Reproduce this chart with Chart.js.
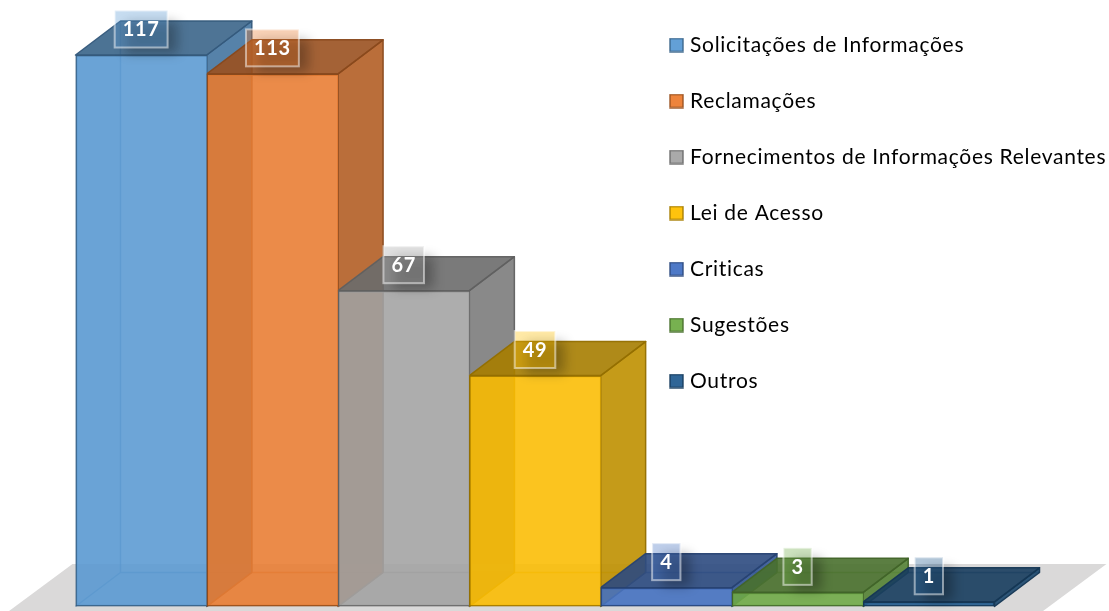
<!DOCTYPE html>
<html><head><meta charset="utf-8">
<style>html,body{margin:0;padding:0;background:#fff}canvas{display:block}</style>
<script src="https://cdn.jsdelivr.net/npm/chart.js@4"></script>
</head><body><canvas id="c" width="1109" height="611"></canvas>
<script>
const categories = ["Solicitações de Informações","Reclamações","Fornecimentos de Informações Relevantes","Lei de Acesso","Criticas","Sugestões","Outros"];
const values = [117,113,67,49,4,3,1];
const seriesColors = ["#5B9BD5","#ED7D31","#A5A5A5","#FFC000","#4472C4","#70AD47","#255E91"];

const DX = 45, DY = 34, ALPHA = 0.88;
const LABEL_FONT = 'bold 20px Lato';
const rgb = h => [1,3,5].map(i => parseInt(h.substr(i,2),16));
const shade = (h,f,a=1) => { const c = rgb(h).map(v => Math.round(v*f)); return `rgba(${c[0]},${c[1]},${c[2]},${a})`; };

function poly(ctx, pts, fill, stroke){
  ctx.beginPath();
  pts.forEach((p,i) => i ? ctx.lineTo(p[0],p[1]) : ctx.moveTo(p[0],p[1]));
  ctx.closePath();
  if(fill){ ctx.fillStyle = fill; ctx.fill(); }
  if(stroke){ ctx.strokeStyle = stroke; ctx.lineWidth = 1.5; ctx.lineJoin='round'; ctx.stroke(); }
}

const cube = {
  id:'cube',
  beforeDatasetsDraw(chart){
    const ctx = chart.ctx, area = chart.chartArea, bars = chart.getDatasetMeta(0).data;
    ctx.save();
    // ground plane
    const gb = 611, gt = area.bottom - DY - 8.5;
    const sl = DX/DY*1.02;
    poly(ctx, [[area.left-3,gt],[area.right+112,gt],[area.right+112-(gb-gt)*sl,gb],[area.left-3-(gb-gt)*sl,gb]], '#dad9d9');
    ctx.restore();
    ctx.save();
    bars.forEach((b,i) => {
      const c = seriesColors[i], l = b.x - b.width/2, r = b.x + b.width/2, t = b.y, f = b.base;
      const edge = shade(c,.58,.95), inner = shade(c,.8,.6);
      // floor, left wall and back wall, seen through the translucent front
      poly(ctx, [[l,f],[r,f],[r+DX,f-DY],[l+DX,f-DY]], shade(c,1,.08), null);
      poly(ctx, [[l,f],[l+DX,f-DY],[l+DX,t-DY],[l,t]], shade(c,.8,.1), null);
      ctx.strokeStyle = inner; ctx.lineWidth = 1.5;
      ctx.beginPath();
      ctx.moveTo(l,f); ctx.lineTo(l+DX,f-DY); ctx.lineTo(l+DX,t-DY);
      ctx.moveTo(l+DX,f-DY); ctx.lineTo(r+DX,f-DY);
      ctx.stroke();
      // right side and top
      poly(ctx, [[r,f],[r+DX,f-DY],[r+DX,t-DY],[r,t]], shade(c,.75,.9), edge);
      poly(ctx, [[l,t],[r,t],[r+DX,t-DY],[l+DX,t-DY]], shade(c,.65,.9), edge);
    });
    ctx.restore();
  },
  afterDatasetsDraw(chart){
    const ctx = chart.ctx, bars = chart.getDatasetMeta(0).data;
    bars.forEach((b,i) => {
      const txt = String(values[i]), c = seriesColors[i];
      ctx.save();
      ctx.font = LABEL_FONT;
      const w = ctx.measureText(txt).width + 16, h = 37;
      const x = b.x - w/2, y = b.y - 26 - h/2;
      // soft shadow under the label
      ctx.save();
      ctx.shadowColor = 'rgba(0,0,0,.28)'; ctx.shadowBlur = 11;
      ctx.shadowOffsetX = 2000 + 6; ctx.shadowOffsetY = 6;
      ctx.fillStyle = '#000';
      ctx.fillRect(x+4-2000, y+4, w, h-4);
      ctx.restore();
      ctx.fillStyle = shade(c,1,.35);
      ctx.fillRect(x,y,w,h);
      ctx.strokeStyle = 'rgba(255,255,255,.5)'; ctx.lineWidth = 2;
      ctx.strokeRect(x,y,w,h);
      ctx.fillStyle = '#fff'; ctx.textAlign='center'; ctx.textBaseline='middle';
      ctx.fillText(txt, b.x, y+h/2+1);
      ctx.restore();
    });
  }
};

const placeLegend = {
  id:'placeLegend',
  afterLayout(chart){
    const l = chart.legend, pad = l.options.labels.padding, w = l.width;
    l.left = 673.5 - pad; l.right = l.left + w + pad;
    l.top = 34.5 - pad; l.bottom = l.top + l.height + pad;
    l.adjustHitBoxes();
  },
  beforeDraw(chart){ chart.ctx.letterSpacing = '0.7px'; }
};

function swatch(color){
  const s = document.createElement('canvas'); s.width = 15; s.height = 15;
  const x = s.getContext('2d');
  x.fillStyle = shade(color,1,.95); x.fillRect(1,1,13,13);
  x.strokeStyle = shade(color,.65,.9); x.lineWidth = 1.5; x.strokeRect(1,1,13,13);
  return s;
}

new Chart(document.getElementById('c'), {
  type:'bar',
  data:{ labels:categories, datasets:[{
    data:values,
    backgroundColor:seriesColors.map(c => shade(c,.98,ALPHA)),
    borderColor:seriesColors.map(c => shade(c,.58,1)),
    borderWidth:1.5,
    borderSkipped:ctx => ctx.dataIndex < values.length - 1 ? 'right' : false,
    barPercentage:1, categoryPercentage:1
  }]},
  options:{
    responsive:false, animation:false, events:[],
    layout:{padding:{left:75.5,right:114.5,top:55,bottom:4.5}},
    scales:{
      x:{display:false,grid:{display:false}},
      y:{display:false,min:0,max:117,grid:{display:false}}
    },
    plugins:{
      tooltip:{enabled:false},
      legend:{
        position:'chartArea', align:'start',
        labels:{
          color:'#111', padding:35, boxWidth:6,
          font:{family:'Lato',size:21,lineHeight:'20px'},
          usePointStyle:true,
          generateLabels(){ return categories.map((t,i) => ({text:t,pointStyle:swatch(seriesColors[i]),fillStyle:seriesColors[i],strokeStyle:seriesColors[i],lineWidth:0,index:i,hidden:false})); }
        }
      }
    }
  },
  plugins:[cube,placeLegend]
});
</script></body></html>
